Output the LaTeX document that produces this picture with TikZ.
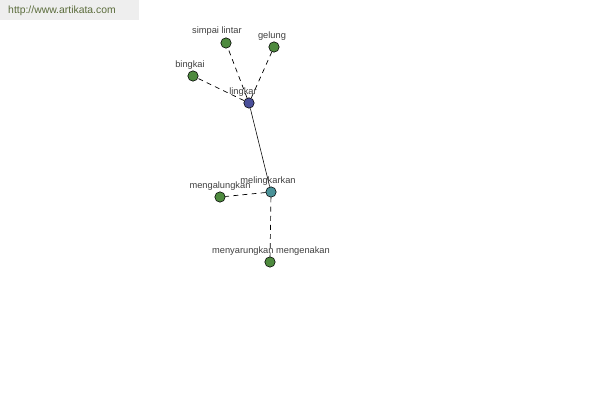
\documentclass[tikz,border=0pt]{standalone}
\usepackage{fontspec}
\setmainfont{Liberation Sans}
\usepackage{tikz}
\usetikzlibrary{positioning}
\definecolor{leafgreen}{HTML}{4E8A3E}
\definecolor{hubblue}{HTML}{4A4F9A}
\definecolor{midteal}{HTML}{4A9298}
\definecolor{sitegray}{HTML}{EEEEEE}
\definecolor{sitetext}{HTML}{5A6B3A}

\begin{document}
\begin{tikzpicture}[x=0.025cm, y=-0.025cm,
  word/.style={circle, draw=black, line width=0.4pt, inner sep=0pt, minimum size=0.26cm},
  lbl/.style={font=\fontsize{6.6}{7.5}\selectfont, text=black!75, inner sep=0pt},
  link/.style={dash pattern=on 3.5pt off 3pt, line width=0.5pt}
]
  \useasboundingbox (0,0) rectangle (600,400);
  % site banner top left
  \fill[sitegray] (0,0) rectangle (139,20);
  \node[font=\fontsize{7.4}{8.5}\selectfont, text=sitetext, inner sep=0pt] (site) at (62,11) {http://www.artikata.com};

  % main words
  \node[word, fill=hubblue] (lingkar) at (249,103) {};
  \node[word, fill=midteal] (melingkarkan) at (271,192) {};

  % related words
  \node[word, fill=leafgreen] (simpai) at (226,43) {};
  \node[word, fill=leafgreen] (gelung) at (274,47) {};
  \node[word, fill=leafgreen] (bingkai) at (193,76) {};
  \node[word, fill=leafgreen] (mengalungkan) at (220,197) {};
  \node[word, fill=leafgreen] (menyarungkan) at (270,262) {};

  % connections
  \draw (lingkar) -- (melingkarkan);
  \draw[link] (lingkar) -- (simpai);
  \draw[link] (lingkar) -- (gelung);
  \draw[link] (lingkar) -- (bingkai);
  \draw[link] (melingkarkan) -- (mengalungkan);
  \draw[link] (melingkarkan) -- (menyarungkan);

  % labels
  \node[lbl] at (217,31) {simpai lintar};
  \node[lbl] at (272,36) {gelung};
  \node[lbl] at (190,65) {bingkai};
  \node[lbl] at (243,92) {lingkar};
  \node[lbl] at (268,181) {melingkarkan};
  \node[lbl] at (220,186) {mengalungkan};
  \node[lbl] at (271,251) {menyarungkan mengenakan};
\end{tikzpicture}
\end{document}
